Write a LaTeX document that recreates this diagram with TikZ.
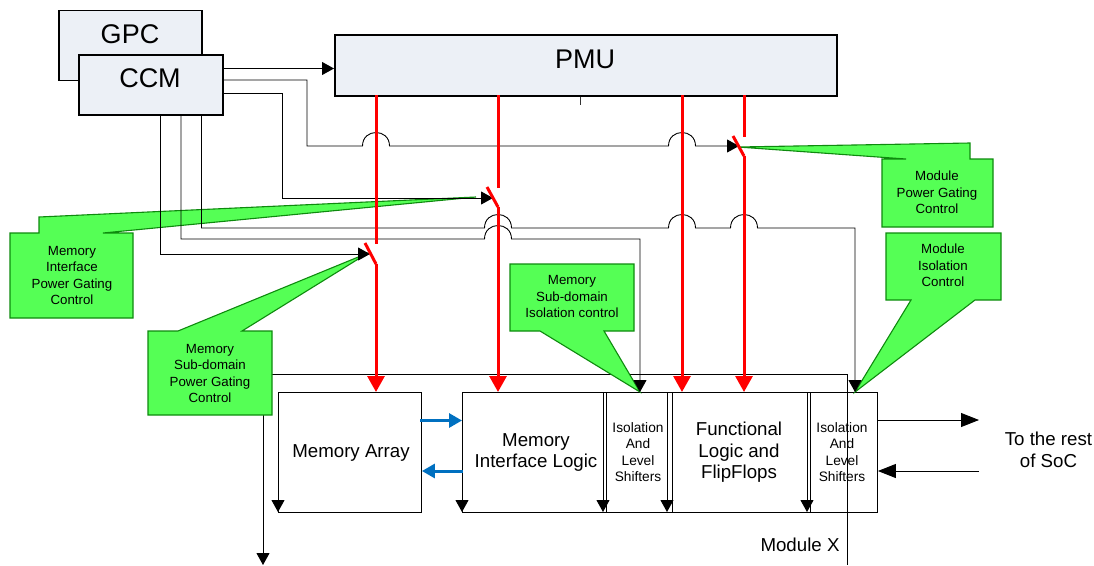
\documentclass[tikz,border=0pt]{standalone}
\usepackage{fontspec}
\setmainfont{Liberation Sans}
\usetikzlibrary{arrows.meta,calc}
\definecolor{boxfill}{HTML}{ECF0F6}
\definecolor{calloutfill}{HTML}{55FF55}
\definecolor{calloutline}{HTML}{0E8A0E}
\definecolor{busblue}{HTML}{0070C0}
\newcommand{\jmp}[2]{-- (#1-13.5,#2) .. controls (#1-13.5,#2-18) and (#1+13.5,#2-18) .. (#1+13.5,#2)}
\tikzset{
  x=1pt,y=-1pt,
  ctrl/.style={line width=0.9pt,black},
  ctrlarrow/.style={ctrl,-{Triangle[length=12pt,width=13pt]}},
  bigarrow/.style={ctrl,-{Triangle[length=18pt,width=14pt]}},
  power/.style={line width=3pt,red,line cap=butt},
  powerarrow/.style={power,-{Triangle[length=16pt,width=17pt]}},
  datalink/.style={line width=3pt,busblue,-{Triangle[length=13pt,width=14pt]}},
  topbox/.style={draw=black,line width=1.7pt,fill=boxfill,inner sep=0pt,anchor=north west},
  block/.style={draw=black,line width=0.9pt,inner sep=0pt,anchor=north west,minimum height=120pt},
  callout/.style={draw=calloutline,fill=calloutfill,line width=1.1pt,line join=miter},
  calltext/.style={inner sep=0pt,align=center,font=\fontsize{13.3}{16.4}\selectfont},
  largetext/.style={inner sep=0pt,align=center,font=\fontsize{18.7}{21.6}\selectfont},
  smallblock/.style={inner sep=0pt,align=center,font=\fontsize{13.7}{16.6}\selectfont},
  toptext/.style={inner sep=0pt,font=\fontsize{27}{30}\selectfont},
  plaintext/.style={inner sep=0pt,align=center,font=\fontsize{18.7}{22}\selectfont},
}
\begin{document}
\begin{tikzpicture}
\useasboundingbox (0,0) rectangle (1094,565);
% switch positions
\coordinate (swA) at (376,254);
\coordinate (swB) at (498,197.5);
\coordinate (swC) at (744,146.5);
\coordinate (tipA) at (370,254);
\coordinate (tipB) at (493,198);
\coordinate (tipC) at (739,146);
\coordinate (tipD) at (640,392);
\coordinate (tipE) at (855,392);
% module outline
\coordinate (modTL) at (263,374);
\coordinate (modTR) at (847,374);
\coordinate (modBR) at (847,565);
\coordinate (modBL) at (263,565);
\draw[ctrl] (modTL) -- (modTR) -- (modBR);
\draw[ctrlarrow] (modTL) -- (modBL);
% top boxes
\node[topbox,minimum width=143pt,minimum height=70pt] (gpc) at (58,9.5) {};
\node[toptext] (gpcT) at (130,34.5) {GPC};
\node[topbox,minimum width=144pt,minimum height=60pt] (ccm) at (78,54) {};
\node[toptext] (ccmT) at (150,78.5) {CCM};
\node[topbox,minimum width=502pt,minimum height=61pt] (pmu) at (334,34) {};
\node[toptext] (pmuT) at (585,59.5) {PMU};
\coordinate (pmuTick) at (580,105);
\draw[line width=0.8pt,black!80] (pmuTick |- pmu.south) -- (pmuTick);
% blocks
\node[block,minimum width=143pt] (arr) at (278,392) {};
\node[block,minimum width=415pt] (row) at (462,392) {};
\node[largetext] (arrT) at (351,453) {Memory Array};
\node[largetext] (milT) at (536,452.5) {Memory\\Interface Logic};
\node[smallblock] (isoA) at (638,452) {Isolation\\And\\Level\\Shifters};
\node[largetext] (fnT) at (739,452.5) {Functional\\Logic and\\FlipFlops};
\node[smallblock] (isoB) at (842,452) {Isolation\\And\\Level\\Shifters};
% block dividers
\foreach \n/\xx in {a/278,b/462,c/603,d/667,e/807}{
  \draw[ctrlarrow] (\xx,392) -- (\xx,512);
}
\foreach \xx in {606,672,810}{
  \draw[ctrl] (\xx,392) -- (\xx,512);
}
% callouts
\draw[callout] (10,233) -- (39,233) -- (39,217) -- (476,197) -- (103,233) -- (133,233) -- (133,318) -- (10,318) -- cycle;
\node[calltext] (cIf) at (72,275.5) {Memory\\Interface\\Power Gating\\Control};
\draw[callout] (148,331) -- (178,331) -- (368,253) -- (242,331) -- (272,331) -- (272,415) -- (148,415) -- cycle;
\node[calltext] (cSub) at (210,373.5) {Memory\\Sub-domain\\Power Gating\\Control};
\draw[callout] (510,264) -- (634,264) -- (634,331) -- (604,331) -- (tipD) -- (540,331) -- (510,331) -- cycle;
\node[calltext] (cIso) at (572,296.5) {Memory\\Sub-domain\\Isolation control};
\draw[callout] (882,159) -- (906,159) -- (738,147) -- (970,143) -- (970,159) -- (993,159) -- (993,227) -- (882,227) -- cycle;
\node[calltext] (cMod) at (937,192.5) {Module\\Power Gating\\Control};
\draw[callout] (886,233) -- (1001,233) -- (1001,300) -- (975,300) -- (tipE) -- (911,300) -- (886,300) -- cycle;
\node[calltext] (cModI) at (943,265.5) {Module\\Isolation\\Control};
% control wires
\coordinate (oA) at (222,68.5);
\coordinate (oB) at (222,80);
\coordinate (oC) at (222,93.5);
\coordinate (oD) at (201.5,114);
\coordinate (oE) at (181,114);
\coordinate (oF) at (160,114);
\draw[ctrlarrow] (oA) -- (oA -| pmu.west);
\draw[ctrlarrow] (oB) -- (307,80) -- (307,146) \jmp{376}{146} \jmp{682}{146} -- (tipC);
\draw[ctrlarrow] (oC) -- (282,93.5) -- (282,198) -- (tipB);
\draw[ctrlarrow] (oD) -- (201.5,228) \jmp{498}{228} \jmp{682}{228} \jmp{744}{228} -- (855,228) -- (tipE);
\draw[ctrlarrow] (oE) -- (181,239) \jmp{498}{239} -- (640,239) -- (tipD);
\draw[ctrlarrow] (oF) -- (160,254) -- (tipA);
% power rails and switches
\draw[power] (376,95) -- (376,244);
\draw[power] (365,243) -- (376,264);
\draw[powerarrow] (376,264) -- (arr.north -| swA);
\draw[power] (498,95) -- (498,188);
\draw[power] (487,187) -- (498,207);
\draw[powerarrow] (498,207) -- (row.north -| swB);
\draw[powerarrow] (682,95) -- (682,392);
\draw[power] (744,95) -- (744,137);
\draw[power] (733,136) -- (744,156);
\draw[powerarrow] (744,156) -- (row.north -| swC);
% data links
\draw[datalink] (420,420.5) -- (row.west |- 0,420.5);
\draw[datalink] (463,471) -- (arr.east |- 0,471);
% external connections
\draw[bigarrow] (row.east |- 0,420) -- (979,420);
\draw[bigarrow] (979,471) -- (row.east |- 0,471);
\node[plaintext] (ext) at (1048.5,450) {To the rest\\of SoC};
\node[plaintext] (modX) at (800,544.5) {Module X};
\end{tikzpicture}
\end{document}
